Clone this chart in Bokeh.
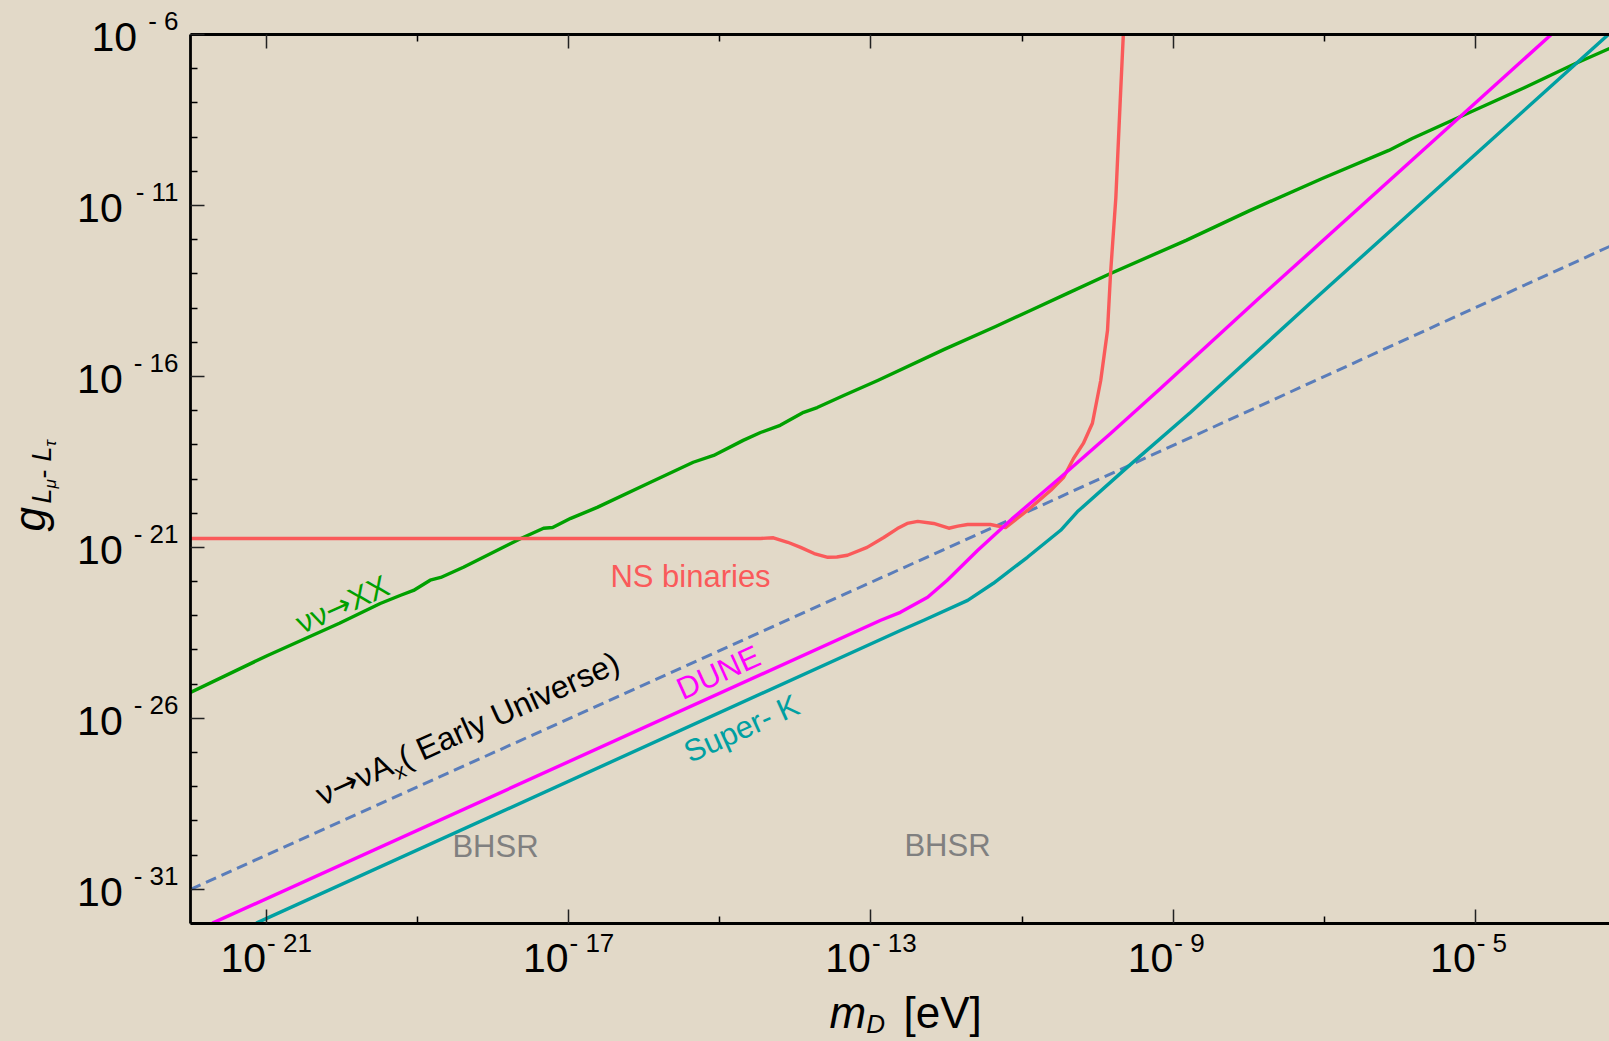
import math
import numpy as np
from bokeh.plotting import figure
from bokeh.models import FixedTicker, CustomJSTickFormatter, LogAxis, Range1d
from bokeh.core.properties import value
from bokeh.embed import file_html
from bokeh.resources import INLINE

# ---------------- data (log10 of m_D [eV] and of g) ----------------
x_major_exp = [-21, -17, -13, -9, -5]
x_minor_exp = [-19, -15, -11, -7]
y_major_exp = [-31, -26, -21, -16, -11, -6]
y_minor_exp = [e for e in range(-32, -5) if e not in y_major_exp]

green_log_m = [-22.0, -20.98, -20.03, -19.49, -19.22, -19.05, -18.83, -18.69, -18.39, -17.63,
               -17.33, -17.21, -16.97, -16.62, -15.95, -15.35, -15.08, -14.69, -14.46, -14.20,
               -13.89, -13.71, -13.36, -12.91, -12.03, -11.35, -10.89, -10.40, -9.83, -8.83,
               -7.99, -7.03, -6.15, -5.84, -5.17, -4.35, -3.68, -3.23]
green_log_g = [-25.24, -24.16, -23.22, -22.64, -22.40, -22.26, -21.96, -21.88, -21.58, -20.74,
               -20.44, -20.42, -20.15, -19.83, -19.13, -18.51, -18.31, -17.87, -17.64, -17.43,
               -17.05, -16.91, -16.56, -16.12, -15.21, -14.54, -14.07, -13.57, -12.99, -12.02,
               -11.15, -10.21, -9.39, -9.04, -8.37, -7.55, -6.85, -6.41]

ns_log_m = [-22.0, -14.46, -14.29, -14.10, -13.93, -13.75, -13.57, -13.45, -13.31, -13.05,
            -12.83, -12.65, -12.52, -12.38, -12.17, -11.97, -11.85, -11.72, -11.42, -11.22,
            -10.93, -10.62, -10.45, -10.32, -10.19, -10.07, -9.96, -9.87, -9.83, -9.76,
            -9.70, -9.66]
ns_log_g = [-20.74, -20.74, -20.72, -20.85, -21.00, -21.18, -21.29, -21.28, -21.23, -21.00,
            -20.71, -20.45, -20.30, -20.24, -20.30, -20.44, -20.38, -20.33, -20.33, -20.42,
            -19.92, -19.33, -18.95, -18.40, -17.96, -17.37, -16.12, -14.65, -12.99, -10.77,
            -7.84, -5.95]

dune_log_m = [-21.71, -12.87, -12.61, -12.25, -11.99, -11.59, -11.11, -10.49, -9.83, -9.17,
              -7.90, -4.00]
dune_log_g = [-31.99, -23.13, -22.90, -22.46, -21.96, -21.09, -20.12, -18.95, -17.67, -16.35,
              -13.78, -6.00]

superk_log_m = [-21.13, -12.61, -12.30, -11.72, -11.38, -10.93, -10.49, -10.27, -9.61, -8.77,
                -7.15, -3.23]
superk_log_g = [-31.99, -23.43, -23.13, -22.55, -22.05, -21.29, -20.50, -19.96, -18.66, -17.05,
                -13.78, -5.97]

early_log_m = [-22.0, -10.89, -3.23]
early_log_g = [-31.0, -19.92, -12.20]

# ---------------- geometry (page pixels, page has no margin) ----------------
W, H = 1609, 1041
FRAME_L, FRAME_T, FRAME_B, FRAME_R = 190, 34, 923, 1609
X_LO, Y_LO, Y_HI = -22.0, -32.0, -6.0
PPD_X = 75.6
X_HI = X_LO + (FRAME_R - FRAME_L) / PPD_X
PPD_Y = (FRAME_B - FRAME_T) / (Y_HI - Y_LO)


def dx(px):
    return 10.0 ** (X_LO + (px - FRAME_L) / PPD_X)


def dy(py):
    return 10.0 ** (Y_HI - (py - FRAME_T) / PPD_Y)


def tx(e):
    return FRAME_L + (e - X_LO) * PPD_X


def ty(e):
    return FRAME_T + (Y_HI - e) * PPD_Y


BG = "#e2d9c8"
FONT = "Liberation Sans"
GREEN, RED, MAGENTA, TEAL, DASH, GRAY = "#00a000", "#fa5a5a", "#ff00ff", "#00a0a2", "#5a7dba", "#808080"
LW = 3.4

p = figure(width=W, height=H, x_axis_type="log", y_axis_type="log",
           x_range=Range1d(10 ** X_LO, 10 ** X_HI), y_range=Range1d(10 ** Y_LO, 10 ** Y_HI),
           output_backend="svg", toolbar_location=None,
           min_border_left=FRAME_L, min_border_right=0,
           min_border_top=FRAME_T, min_border_bottom=H - FRAME_B)
p.background_fill_color = BG
p.border_fill_color = BG
p.outline_line_color = None
p.xgrid.visible = False
p.ygrid.visible = False

xticker = FixedTicker(ticks=[10.0 ** e for e in x_major_exp], minor_ticks=[10.0 ** e for e in x_minor_exp])
yticker = FixedTicker(ticks=[10.0 ** e for e in y_major_exp], minor_ticks=[10.0 ** e for e in y_minor_exp])


def style_axis(ax):
    ax.formatter = CustomJSTickFormatter(code="return ''")
    ax.axis_line_width = 2.8
    ax.axis_line_color = "black"
    ax.major_tick_in = 14
    ax.major_tick_out = 0
    ax.minor_tick_in = 7
    ax.minor_tick_out = 0
    ax.major_tick_line_width = 1.5
    ax.minor_tick_line_width = 1.5
    ax.major_tick_line_color = "#222222"
    ax.minor_tick_line_color = "black"
    ax.major_label_text_font_size = "8px"


p.xaxis.ticker = xticker
p.yaxis.ticker = yticker
style_axis(p.xaxis[0])
style_axis(p.yaxis[0])
top = LogAxis(ticker=xticker)
style_axis(top)
p.add_layout(top, "above")


# ---------------- curves ----------------
def pw(a):
    return 10.0 ** np.array(a)


p.line(pw(early_log_m), pw(early_log_g), line_color=DASH, line_width=3, line_dash="11 6")
p.line(pw(green_log_m), pw(green_log_g), line_color=GREEN, line_width=LW, line_join="round")
p.line(pw(ns_log_m), pw(ns_log_g), line_color=RED, line_width=LW, line_join="round")
p.line(pw(superk_log_m), pw(superk_log_g), line_color=TEAL, line_width=LW, line_join="round")
p.line(pw(dune_log_m), pw(dune_log_g), line_color=MAGENTA, line_width=LW, line_join="round")

# ---------------- text helpers (unclipped overlay text glyphs) ----------------
EM = {"-": 0.333, " ": 0.278, "(": 0.333, ")": 0.333, "ν": 0.5, "A": 0.667, "X": 0.667, "E": 0.667,
      "a": 0.556, "r": 0.333, "l": 0.222, "y": 0.5, "U": 0.722, "n": 0.556, "i": 0.222, "v": 0.5,
      "e": 0.556, "s": 0.5, "x": 0.5}
MID = 0.3465  # distance from the alphabetic baseline up to the text's middle, in em


def w_em(s):
    return sum(EM.get(c, 0.556) for c in s)


def put(px, py, text, size, italic=False, angle=0.0, align="left", baseline="alphabetic",
        color="black", font=FONT):
    if baseline == "alphabetic":
        # place by the middle line, measured up from the wanted baseline
        nx, ny = math.sin(angle), math.cos(angle)
        px -= MID * size * nx
        py -= MID * size * ny
        baseline = "middle"
    p.text(x=[dx(px)], y=[dy(py)], text=[text], angle=angle, text_align=align,
           text_baseline=baseline, text_font=value(font), text_font_size=value(f"{size}px"),
           text_font_style=value("italic" if italic else "normal"), text_color=color,
           level="overlay")


def rich(cx, cy, pieces, angle, main_size, color):
    # pieces: (text, size, font, width_em or None, down shift px); (cx, cy) = middle of the whole
    ux, uy = math.cos(angle), -math.sin(angle)
    nx, ny = math.sin(angle), math.cos(angle)
    widths = [(w if w is not None else w_em(t)) * s for (t, s, f, w, d) in pieces]
    L = sum(widths)
    b = MID * main_size
    sx = cx - L / 2 * ux + b * nx
    sy = cy - L / 2 * uy + b * ny
    acc = 0.0
    for (t, s, f, w, d), wd in zip(pieces, widths):
        put(sx + acc * ux + d * nx, sy + acc * uy + d * ny, t, s, angle=angle, color=color, font=f)
        acc += wd


# ---------------- tick labels ----------------
CW = {"-": 0.333, " ": 0.278}


def twidth(s, size):
    return sum(CW.get(c, 0.556) for c in s) * size


MAIN_FS, SUP_FS = 41, 26
for e in x_major_exp:
    px = tx(e)
    put(px, 972, "10", MAIN_FS, align="right")
    put(px + 1, 952, f"- {-e}", SUP_FS, align="left")

Y_LAB_R = 178
for e in y_major_exp:
    py = ty(e)
    sup = f"- {-e}"
    sw = twidth(sup, SUP_FS) + 8
    put(Y_LAB_R, py - 4, sup, SUP_FS, align="right")
    put(Y_LAB_R - sw - 3, py + 16.5, "10", MAIN_FS, align="right")

# ---------------- axis titles ----------------
put(829, 1027, "m", 44, italic=True)
put(829 + 0.833 * 44, 1033, "D", 26, italic=True)
put(903, 1027, "[eV]", 44)

R = math.pi / 2
put(44, 531, "g", 44, italic=True, angle=R)
put(51, 503, "L", 27, italic=True, angle=R)
put(56, 503 - 0.556 * 27, "μ", 17, italic=True, angle=R)
put(51, 478, "-", 27, angle=R)
put(51, 461, "L", 27, italic=True, angle=R)
put(56, 461 - 0.556 * 27, "τ", 17, italic=True, angle=R)

# ---------------- in-plot annotations ----------------
ANG = math.atan(PPD_Y / PPD_X)
ARROW = "DejaVu Sans"
rich(342, 604, [("νν", 31, FONT, None, 0), ("→", 31, ARROW, 0.838, 0), ("XX", 31, FONT, None, 0)],
     ANG, 31, GREEN)
rich(467, 728, [("ν", 32, FONT, None, 0), ("→", 32, ARROW, 0.838, 0), ("νA", 32, FONT, None, 0),
                ("x", 21, FONT, None, 7), ("( Early Universe)", 32, FONT, None, 0)], ANG, 32, "black")
put(718, 672, "DUNE", 31, angle=ANG, align="center", baseline="middle", color=MAGENTA)
put(741, 728, "Super- K", 31, angle=ANG, align="center", baseline="middle", color=TEAL)
put(690, 576, "NS binaries", 31, align="center", baseline="middle", color=RED)
put(495, 846, "BHSR", 31, align="center", baseline="middle", color=GRAY)
put(947, 845, "BHSR", 31, align="center", baseline="middle", color=GRAY)

tmpl = ("{% block postamble %}<style>html, body { background-color: " + BG +
        "; margin: 0; padding: 0; }</style>{% endblock %}")
try:
    html = file_html(p, INLINE, title="plot", template=tmpl)
except Exception:
    html = file_html(p, INLINE, title="plot")
open("out.html", "w").write(html)
